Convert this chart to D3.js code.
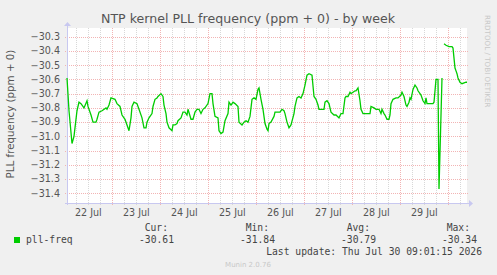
<!DOCTYPE html>
<html>
<head>
<meta charset="utf-8">
<script src="https://cdn.jsdelivr.net/npm/d3@7"></script>
<style>
  body { margin: 0; background: #f0f0f0; }
  svg { display: block; }
  text { font-family: "DejaVu Sans", sans-serif; }
  .mono { font-family: "DejaVu Sans Mono", monospace; }
</style>
</head>
<body>
<svg width="497" height="275"></svg>
<script>
// hours since 22 Jul 01:20 and the pll-freq reading at that time
var hours = [0,1,2.5,3.5,5,6,7,8.5,10,10.5,
  12,13,14.5,15,16,17.5,19.5,20,21,22,
  24,25,26.5,27.5,29,30,31,32,32.5,33.5,
  35,36,37.5,38.5,39.5,40,41,42.5,43,44,
  45,45.5,47,48,48.5,49.5,50,51,52.5,53,
  54,55,55.5,57,58,59,60,60.5,62,63,
  64,65,66,67,68,69,70.5,71.5,72.5,73,
  74,75.5,76,77,78,79,80.5,81,82,83,
  84,85.5,86,87.5,88.5,89.5,90.5,91.5,92.5,93.5,
  94.5,95.5,96,97,98,99,100,100.5,101,102,
  103.5,104,105.5,106.5,107.5,108.5,109,110,111,112,
  113.5,114,115,116,117,118,119,120,121,122.5,
  123.5,124.5,125.5,126,127,128.5,129,130,131,131.5,
  132,133.5,134.5,136,137,138,139,139.5,140.5,141.5,
  142,143,144,144.5,145.5,146.5,147,148,149.5,151.5,
  152,153.5,154.5,156,157,157.5,158.5,159,160,161,
  161.5,162,163,164.5,165.5,167,167.5,168.5,169.5,170,
  171,171.5,172,173,174,175,175.5,176.5,177,178,
  179,179.5,180,181.5,183,183.5,184.5,185.5,186,187.5,
  188,188.5,189.5,191,192.5,193,194,194.5,195,195.5,
  196.5,197.5,199.5,200];
var freq = [-30.59,-30.82,-31.05,-31.00,-30.82,-30.76,-30.77,-30.80,-30.75,-30.79,
  -30.85,-30.90,-30.90,-30.88,-30.83,-30.82,-30.80,-30.81,-30.78,-30.73,
  -30.74,-30.77,-30.79,-30.85,-30.88,-30.92,-30.96,-30.87,-30.79,-30.76,
  -30.77,-30.81,-30.87,-30.94,-30.94,-30.90,-30.87,-30.84,-30.79,-30.74,
  -30.73,-30.72,-30.70,-30.72,-30.78,-30.84,-30.90,-30.94,-30.96,-30.92,
  -30.92,-30.91,-30.89,-30.87,-30.83,-30.83,-30.85,-30.81,-30.88,-30.88,
  -30.83,-30.81,-30.81,-30.84,-30.81,-30.80,-30.77,-30.70,-30.70,-30.77,
  -30.86,-30.87,-30.96,-30.98,-30.97,-30.89,-30.84,-30.76,-30.78,-30.76,
  -30.77,-30.79,-30.90,-30.92,-30.90,-30.89,-30.90,-30.86,-30.74,-30.73,
  -30.74,-30.67,-30.66,-30.74,-30.81,-30.91,-30.95,-30.96,-30.91,-30.90,
  -30.86,-30.83,-30.83,-30.83,-30.81,-30.82,-30.84,-30.90,-30.94,-30.92,
  -30.84,-30.79,-30.73,-30.72,-30.73,-30.70,-30.64,-30.57,-30.56,-30.57,
  -30.72,-30.74,-30.78,-30.81,-30.81,-30.81,-30.76,-30.75,-30.77,-30.80,
  -30.83,-30.85,-30.85,-30.87,-30.84,-30.84,-30.73,-30.72,-30.72,-30.69,
  -30.70,-30.69,-30.68,-30.68,-30.66,-30.75,-30.81,-30.84,-30.84,-30.84,
  -30.79,-30.80,-30.81,-30.81,-30.84,-30.81,-30.84,-30.85,-30.88,-30.88,
  -30.85,-30.77,-30.74,-30.73,-30.73,-30.71,-30.69,-30.72,-30.78,-30.79,
  -30.76,-30.73,-30.74,-30.67,-30.64,-30.66,-30.68,-30.70,-30.71,-30.75,
  -30.77,-30.73,-30.77,-30.77,-30.77,-30.76,-30.60,-30.60,-31.37,-30.59,
  null,-30.35,-30.36,-30.37,-30.37,-30.38,-30.52,-30.54,-30.56,-30.59,
  -30.62,-30.63,-30.62,-30.62];

var yTicks = [-30.3,-30.4,-30.5,-30.6,-30.7,-30.8,-30.9,-31.0,-31.1,-31.2,-31.3,-31.4];
var dayLabels = ["22 Jul","23 Jul","24 Jul","25 Jul","26 Jul","27 Jul","28 Jul","29 Jul"];
var legendHeads = ["Cur:","Min:","Avg:","Max:"];
var legendVals = ["-30.61","-31.84","-30.79","-30.34"];
var lastUpdate = "Last update: Thu Jul 30 09:01:15 2026";

var svg = d3.select("svg");
var pLeft = 67, pRight = 467, pTop = 28, pBottom = 203;

var start = new Date(2026, 6, 22, 1, 20);
var end = new Date(start.getTime() + 200 * 3600e3);
var x = d3.scaleTime().domain([start, end]).range([pLeft, pRight]);
var y = d3.scaleLinear().domain([-31.468, -30.239]).range([pBottom, pTop]);

var data = hours.map(function(h, i) {
  return {t: new Date(start.getTime() + h * 3600e3), v: freq[i]};
});

// plot background
svg.append("rect").attr("x", pLeft).attr("y", pTop)
  .attr("width", pRight - pLeft).attr("height", pBottom - pTop).attr("fill", "#fff");

// minor vertical grid, every 6 hours
var minor = d3.timeHour.every(6).range(start, end).filter(function(d) { return d.getHours() != 0; });
svg.append("g").selectAll("line").data(minor).enter().append("line")
  .attr("x1", function(d) { return Math.round(x(d)) + 0.5; })
  .attr("x2", function(d) { return Math.round(x(d)) + 0.5; })
  .attr("y1", pTop).attr("y2", pBottom + 2)
  .attr("stroke", "#d8d8d8").attr("stroke-dasharray", "1,1");

// major vertical grid, midnight
var days = d3.timeDay.range(start, end);
svg.append("g").selectAll("line").data(days).enter().append("line")
  .attr("x1", function(d) { return Math.round(x(d)) + 0.5; })
  .attr("x2", function(d) { return Math.round(x(d)) + 0.5; })
  .attr("y1", pTop).attr("y2", pBottom + 2)
  .attr("stroke", "#f2b4b4").attr("stroke-dasharray", "1,1");

// horizontal grid
svg.append("g").selectAll("line").data(yTicks).enter().append("line")
  .attr("x1", pLeft - 2).attr("x2", pRight + 2)
  .attr("y1", function(d) { return Math.round(y(d)) + 0.5; })
  .attr("y2", function(d) { return Math.round(y(d)) + 0.5; })
  .attr("stroke", "#f2b4b4").attr("stroke-dasharray", "1,1");

// y tick labels
svg.append("g").selectAll("text").data(yTicks).enter().append("text")
  .attr("x", pLeft - 7).attr("y", function(d) { return y(d); })
  .attr("dy", "0.35em").attr("text-anchor", "end")
  .attr("font-size", "9.6px").attr("fill", "#555")
  .text(function(d) { return d3.format(".1f")(d); });

// x labels at noon
svg.append("g").selectAll("text").data(dayLabels).enter().append("text")
  .attr("x", function(d, i) { return x(new Date(2026, 6, 22 + i, 12)); })
  .attr("y", 216).attr("text-anchor", "middle")
  .attr("font-size", "9.6px").attr("fill", "#555")
  .text(function(d) { return d; });

// axes with arrows
var axisCol = "#c8c8f0";
svg.append("line").attr("x1", pLeft - 2).attr("x2", pRight + 2)
  .attr("y1", pBottom + 0.5).attr("y2", pBottom + 0.5).attr("stroke", axisCol);
svg.append("line").attr("x1", pLeft + 0.5).attr("x2", pLeft + 0.5)
  .attr("y1", pTop - 2).attr("y2", pBottom + 2).attr("stroke", axisCol);
svg.append("path").attr("d", "M" + (pRight + 2) + "," + (pBottom - 3) + "L" + (pRight + 6) + "," + (pBottom + 0.5) + "L" + (pRight + 2) + "," + (pBottom + 4) + "Z")
  .attr("fill", axisCol);
svg.append("path").attr("d", "M" + (pLeft - 3) + "," + (pTop - 2) + "L" + (pLeft + 0.5) + "," + (pTop - 6) + "L" + (pLeft + 4) + "," + (pTop - 2) + "Z")
  .attr("fill", axisCol);

// the series
var line = d3.line()
  .defined(function(d) { return d.v != null; })
  .x(function(d) { return x(d.t); })
  .y(function(d) { return y(d.v); });
svg.append("path").datum(data).attr("d", line)
  .attr("fill", "none").attr("stroke", "#00cc00").attr("stroke-width", 1.3);

// title
svg.append("text").attr("x", 248).attr("y", 23).attr("text-anchor", "middle")
  .attr("font-size", "12.6px").attr("fill", "#555")
  .text("NTP kernel PLL frequency (ppm + 0) - by week");

// y axis title
svg.append("text").attr("transform", "translate(14," + 114 + ") rotate(-90)")
  .attr("text-anchor", "middle").attr("font-size", "10.3px").attr("fill", "#555")
  .text("PLL frequency (ppm + 0)");

// watermark
svg.append("text").attr("transform", "translate(485,15) rotate(90)")
  .attr("font-size", "7.2px").attr("fill", "#c8c8c8")
  .text("RRDTOOL / TOBI OETIKER");

// legend
svg.append("rect").attr("x", 14).attr("y", 237).attr("width", 6).attr("height", 6).attr("fill", "#00cc00");
svg.append("text").attr("class", "mono").attr("x", 26).attr("y", 243)
  .attr("font-size", "9.7px").attr("fill", "#444").text("pll-freq");

var headX = [168, 269, 370, 470];
var valX = [174, 275, 376, 477];
svg.append("g").selectAll("text").data(legendHeads).enter().append("text")
  .attr("class", "mono").attr("x", function(d, i) { return headX[i]; }).attr("y", 231)
  .attr("text-anchor", "end").attr("font-size", "9.7px").attr("fill", "#444")
  .text(function(d) { return d; });
svg.append("g").selectAll("text").data(legendVals).enter().append("text")
  .attr("class", "mono").attr("x", function(d, i) { return valX[i]; }).attr("y", 243)
  .attr("text-anchor", "end").attr("font-size", "9.7px").attr("fill", "#444")
  .text(function(d) { return d; });
svg.append("text").attr("class", "mono").attr("x", 482).attr("y", 255)
  .attr("text-anchor", "end").attr("font-size", "9.7px").attr("fill", "#444")
  .text(lastUpdate);

svg.append("text").attr("x", 248).attr("y", 267).attr("text-anchor", "middle")
  .attr("font-size", "7px").attr("fill", "#c8c8c8").text("Munin 2.0.76");
</script>
</body>
</html>
